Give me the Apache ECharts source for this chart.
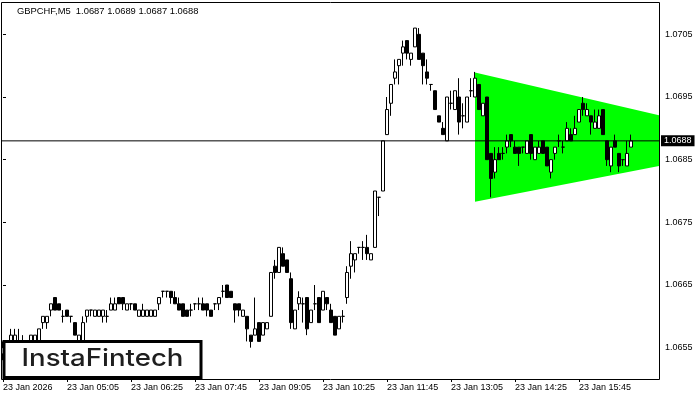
<!DOCTYPE html>
<html>
<head>
<meta charset="utf-8">
<script src="https://cdn.jsdelivr.net/npm/echarts@6/dist/echarts.min.js"></script>
<style>
html,body{margin:0;padding:0;background:#fff;}
#chart{width:700px;height:400px;}
</style>
</head>
<body>
<div id="chart"></div>
<script>
var titleText = 'GBPCHF,M5  1.0687 1.0689 1.0687 1.0688';
var currentPrice = 1.0688;
var logoText = 'InstaFintech';
var slotCount = 165;
var tickEvery = 16;
var xTickLabels = ['23 Jan 2026','23 Jan 05:05','23 Jan 06:25','23 Jan 07:45','23 Jan 09:05','23 Jan 10:25','23 Jan 11:45','23 Jan 13:05','23 Jan 14:25','23 Jan 15:45'];
var yTickValues = [1.0655, 1.0665, 1.0675, 1.0685, 1.0695, 1.0705];

var openP = [
1.0654,1.0655,1.0655,1.0655,1.0656,1.0655,1.0655,1.0655,1.0656,1.0655,
1.0659,1.0659,1.0661,1.0663,1.0662,1.0660,1.0661,1.0660,1.0659,1.0656,
1.0656,1.0660,1.0661,1.0660,1.0660,1.0660,1.0660,1.0661,1.0661,1.0663,
1.0663,1.0661,1.0662,1.0662,1.0660,1.0660,1.0660,1.0660,1.0660,1.0662,
1.0664,1.0664,1.0664,1.0663,1.0662,1.0662,1.0661,1.0661,1.0662,1.0662,
1.0662,1.0662,1.0661,1.0662,1.0662,1.0664,1.0665,1.0664,1.0662,1.0662,
1.0660,1.0660,1.0657,1.0657,1.0659,1.0657,1.0658,1.0660,1.0668,1.0667,
1.0670,1.0669,1.0666,1.0658,1.0662,1.0662,1.0663,1.0659,1.0662,1.0663,
1.0661,1.0663,1.0661,1.0660,1.0658,1.0660,1.0663,1.0668,1.0669,1.0671,
1.0671,1.0671,1.0669,1.0671,1.0679,1.0680,1.0689,1.0694,1.0698,1.0700,
1.0702,1.0704,1.0701,1.0703,1.0705,1.0702,1.0699,1.0697,1.0696,1.0692,
1.0690,1.0688,1.0694,1.0693,1.0695,1.0692,1.0691,1.0696,1.0695,1.0697,
1.0692,1.0695,1.0686,1.0683,1.0686,1.0686,1.0687,1.0689,1.0687,1.0687,
1.0687,1.0686,1.0689,1.0685,1.0686,1.0688,1.0687,1.0683,1.0686,1.0688,
1.0687,1.0688,1.0689,1.0689,1.0691,1.0694,1.0692,1.0692,1.0690,1.0690,
1.0693,1.0688,1.0684,1.0688,1.0686,1.0685,1.0684,1.0687];
var closeP = [
1.0655,1.0654,1.0657,1.0657,1.0656,1.0655,1.0654,1.0657,1.0657,1.0658,
1.0660,1.0660,1.0662,1.0661,1.0661,1.0660,1.0660,1.0660,1.0657,1.0657,
1.0659,1.0661,1.0661,1.0661,1.0661,1.0661,1.0660,1.0662,1.0662,1.0662,
1.0662,1.0662,1.0662,1.0661,1.0661,1.0661,1.0661,1.0661,1.0661,1.0663,
1.0664,1.0664,1.0663,1.0662,1.0661,1.0660,1.0660,1.0661,1.0662,1.0662,
1.0661,1.0661,1.0660,1.0662,1.0663,1.0664,1.0663,1.0663,1.0661,1.0661,
1.0661,1.0658,1.0656,1.0658,1.0656,1.0659,1.0659,1.0667,1.0667,1.0671,
1.0668,1.0667,1.0659,1.0661,1.0663,1.0662,1.0658,1.0661,1.0662,1.0659,
1.0664,1.0662,1.0659,1.0657,1.0660,1.0660,1.0667,1.0670,1.0670,1.0671,
1.0671,1.0670,1.0670,1.0680,1.0679,1.0688,1.0693,1.0697,1.0699,1.0701,
1.0703,1.0702,1.0702,1.0706,1.0701,1.0700,1.0698,1.0697,1.0693,1.0691,
1.0689,1.0695,1.0694,1.0696,1.0691,1.0692,1.0695,1.0696,1.0698,1.0693,
1.0694,1.0685,1.0682,1.0685,1.0685,1.0686,1.0688,1.0688,1.0686,1.0686,
1.0687,1.0688,1.0686,1.0687,1.0687,1.0686,1.0684,1.0685,1.0687,1.0688,
1.0687,1.0690,1.0688,1.0690,1.0693,1.0693,1.0693,1.0691,1.0691,1.0692,
1.0689,1.0685,1.0687,1.0687,1.0684,1.0685,1.0686,1.0688];
var lowP = [
1.0653,1.0653,1.0654,1.0654,1.0655,1.0654,1.0653,1.0654,1.0655,1.0654,
1.0658,1.0658,1.0660,1.0661,1.0661,1.0659,1.0660,1.0659,1.0657,1.0656,
1.0656,1.0659,1.0660,1.0660,1.0660,1.0659,1.0659,1.0661,1.0661,1.0662,
1.0661,1.0661,1.0661,1.0661,1.0660,1.0660,1.0660,1.0660,1.0660,1.0661,
1.0663,1.0663,1.0662,1.0662,1.0661,1.0660,1.0660,1.0660,1.0661,1.0661,
1.0661,1.0660,1.0660,1.0661,1.0661,1.0663,1.0663,1.0663,1.0659,1.0660,
1.0660,1.0656,1.0655,1.0657,1.0656,1.0657,1.0658,1.0660,1.0666,1.0667,
1.0668,1.0667,1.0658,1.0658,1.0661,1.0659,1.0657,1.0659,1.0661,1.0659,
1.0661,1.0661,1.0659,1.0657,1.0658,1.0659,1.0662,1.0666,1.0667,1.0670,
1.0669,1.0669,1.0669,1.0671,1.0676,1.0680,1.0689,1.0692,1.0697,1.0697,
1.0700,1.0701,1.0700,1.0703,1.0701,1.0697,1.0697,1.0696,1.0693,1.0691,
1.0689,1.0688,1.0693,1.0693,1.0689,1.0690,1.0691,1.0695,1.0695,1.0693,
1.0692,1.0685,1.0679,1.0682,1.0685,1.0685,1.0686,1.0687,1.0686,1.0684,
1.0686,1.0686,1.0685,1.0685,1.0686,1.0686,1.0684,1.0682,1.0685,1.0687,
1.0686,1.0688,1.0688,1.0689,1.0691,1.0692,1.0692,1.0689,1.0690,1.0690,
1.0689,1.0684,1.0683,1.0687,1.0683,1.0684,1.0684,1.0687];
var highP = [
1.0656,1.0655,1.0658,1.0658,1.0658,1.0657,1.0656,1.0657,1.0657,1.0658,
1.0660,1.0660,1.0662,1.0663,1.0662,1.0661,1.0661,1.0660,1.0659,1.0657,
1.0660,1.0661,1.0661,1.0661,1.0661,1.0661,1.0661,1.0663,1.0663,1.0663,
1.0663,1.0662,1.0662,1.0662,1.0661,1.0662,1.0661,1.0661,1.0661,1.0663,
1.0664,1.0664,1.0664,1.0664,1.0663,1.0662,1.0661,1.0662,1.0662,1.0663,
1.0663,1.0662,1.0661,1.0662,1.0663,1.0665,1.0665,1.0664,1.0662,1.0662,
1.0661,1.0660,1.0657,1.0663,1.0659,1.0659,1.0659,1.0667,1.0669,1.0671,
1.0671,1.0669,1.0667,1.0661,1.0664,1.0663,1.0663,1.0661,1.0665,1.0663,
1.0664,1.0663,1.0662,1.0660,1.0660,1.0661,1.0668,1.0672,1.0670,1.0671,
1.0672,1.0673,1.0670,1.0680,1.0679,1.0688,1.0695,1.0697,1.0701,1.0701,
1.0704,1.0704,1.0702,1.0706,1.0706,1.0702,1.0701,1.0697,1.0696,1.0692,
1.0691,1.0695,1.0696,1.0696,1.0698,1.0694,1.0695,1.0698,1.0699,1.0697,
1.0694,1.0695,1.0686,1.0687,1.0687,1.0687,1.0689,1.0689,1.0688,1.0687,
1.0687,1.0688,1.0689,1.0687,1.0688,1.0688,1.0687,1.0685,1.0687,1.0689,
1.0688,1.0691,1.0690,1.0692,1.0693,1.0695,1.0694,1.0692,1.0693,1.0693,
1.0693,1.0688,1.0687,1.0689,1.0686,1.0685,1.0688,1.0689];

// triangle pattern (bar index, upper edge, lower edge)
var patternIndex = [118, 164];
var patternUpper = [1.06989, 1.06921];
var patternLower = [1.06783, 1.06840];

var categories = [];
for (var k = 0; k < slotCount; k++) categories.push(String(k));
var candleData = openP.map(function (o, i) { return [o, closeP[i], lowP[i], highP[i]]; });

var FONT = 'Liberation Sans, Arial, sans-serif';
var chart = echarts.init(document.getElementById('chart'), null, {renderer: 'canvas'});

function showTick(index) { return index % tickEvery === 0 && index / tickEvery < xTickLabels.length; }

chart.setOption({
  animation: false,
  backgroundColor: '#ffffff',
  title: {
    text: titleText, left: 17, top: 7, padding: 0,
    textStyle: {fontSize: 9.4, fontWeight: 'normal', color: '#000', fontFamily: FONT}
  },
  grid: {left: 3, right: 41, top: 3, bottom: 21, show: false},
  xAxis: [{
    type: 'category', data: categories, boundaryGap: false,
    axisLine: {show: false},
    axisTick: {show: true, interval: function (i) { return showTick(i); }, length: 3, lineStyle: {color: '#000', width: 1}},
    axisLabel: {
      interval: function (i) { return showTick(i); },
      formatter: function (v, i) { return xTickLabels[i / tickEvery] || ''; },
      align: 'left', margin: 4, fontSize: 9, color: '#000', fontFamily: FONT
    },
    splitLine: {show: false}
  }, {
    type: 'value', min: 0, max: slotCount - 1, show: false
  }],
  yAxis: {
    type: 'value', position: 'right', min: 1.065, max: 1.071,
    axisLine: {show: false},
    axisTick: {show: true, length: 3, customValues: yTickValues, lineStyle: {color: '#000', width: 1}},
    axisLabel: {customValues: yTickValues, margin: 6, fontSize: 9, color: '#000', fontFamily: FONT,
      formatter: function (v) { return v.toFixed(4); }},
    splitLine: {show: false}
  },
  series: [{
    type: 'custom',
    xAxisIndex: 1,
    z: 1,
    silent: true,
    data: [[patternIndex[0], patternUpper[0]]],
    renderItem: function (params, api) {
      var pts = [
        api.coord([patternIndex[0], patternUpper[0]]),
        api.coord([patternIndex[1], patternUpper[1]]),
        api.coord([patternIndex[1], patternLower[1]]),
        api.coord([patternIndex[0], patternLower[0]])
      ];
      return {type: 'polygon', shape: {points: pts}, style: {fill: '#00ff00', stroke: null}};
    }
  }, {
    type: 'candlestick',
    z: 3,
    data: candleData,
    barWidth: 3,
    clip: false,
    itemStyle: {color: '#ffffff', color0: '#000000', borderColor: '#000000', borderColor0: '#000000', borderWidth: 1}
  }, {
    type: 'line',
    xAxisIndex: 1,
    z: 4,
    silent: true,
    clip: false,
    symbol: 'none',
    data: [[-0.5, currentPrice], [slotCount - 1, currentPrice]],
    lineStyle: {color: '#000', width: 1, type: 'solid'},
    endLabel: {
      show: true, distance: 2,
      formatter: function () { return currentPrice.toFixed(4); },
      backgroundColor: '#000', color: '#fff', padding: [1, 3, 1, 3],
      fontSize: 9, fontFamily: FONT
    }
  }],
  graphic: [{
    type: 'rect', silent: true, z: 50,
    shape: {x: 1.5, y: 2.5, width: 658, height: 377},
    style: {fill: null, stroke: '#000', lineWidth: 1}
  }, {
    type: 'rect', silent: true, z: 100,
    shape: {x: 4, y: 341.5, width: 197, height: 36},
    style: {fill: '#fff', stroke: '#000', lineWidth: 3}
  }, {
    type: 'text', silent: true, z: 101,
    x: 102.5, y: 358.5, scaleX: 1.15,
    style: {text: logoText, fill: '#1e1e1e', font: '500 24px Inter, sans-serif', textAlign: 'center', textVerticalAlign: 'middle'}
  }]
});
</script>
</body>
</html>
